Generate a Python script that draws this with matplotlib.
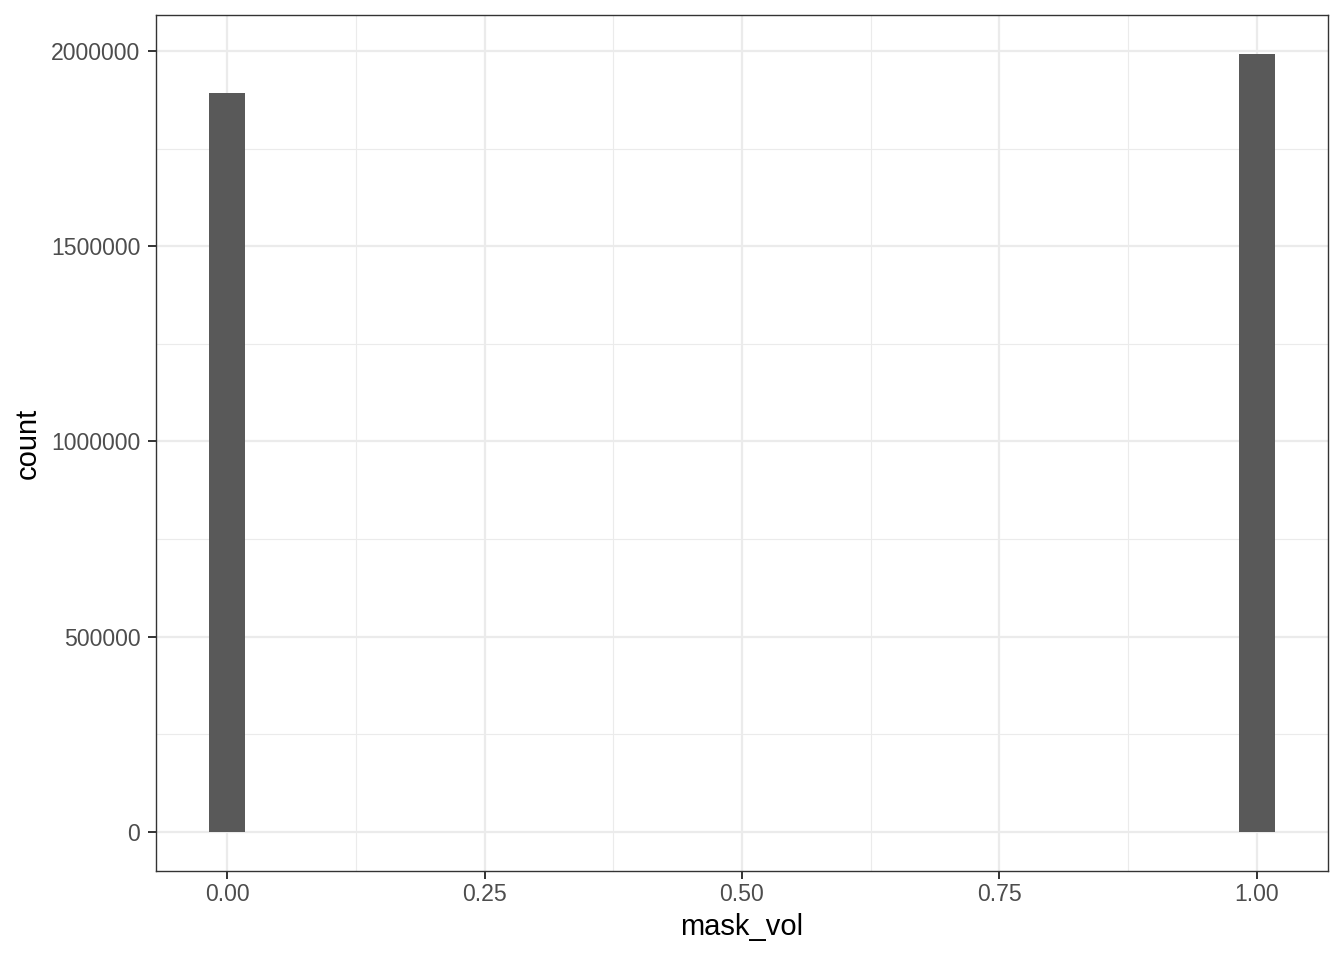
import matplotlib
matplotlib.use("Agg")
import matplotlib.pyplot as plt
import numpy as np

plt.rcParams['font.family'] = ['Liberation Sans', 'DejaVu Sans']

# histogram of mask_vol (30 bins, only the end bins are filled)
mask_vol = [0.0, 1.0]
counts = [1892500, 1992300]
bin_width = 1 / 29

x_ticks = [0.0, 0.25, 0.5, 0.75, 1.0]
x_labels = ['0.00', '0.25', '0.50', '0.75', '1.00']
y_ticks = [0, 500000, 1000000, 1500000, 2000000]
y_labels = ['0', '500000', '1000000', '1500000', '2000000']

fig = plt.figure(figsize=(13.44, 9.6), dpi=100)
ax = fig.add_axes([156 / 1344, 89 / 960, 1172 / 1344, 856 / 960])

ax.bar(mask_vol, counts, width=bin_width, color='#595959', zorder=3)

xmin, xmax = -bin_width / 2, 1 + bin_width / 2
xpad = (xmax - xmin) * 0.05
ax.set_xlim(xmin - xpad, xmax + xpad)
ymax = max(counts)
ax.set_ylim(-ymax * 0.05, ymax * 1.05)

ax.set_xticks(x_ticks)
ax.set_xticklabels(x_labels)
ax.set_yticks(y_ticks)
ax.set_yticklabels(y_labels)
ax.set_xticks([0.125, 0.375, 0.625, 0.875], minor=True)
ax.set_yticks([250000, 750000, 1250000, 1750000], minor=True)

ax.grid(which='major', color='#EBEBEB', linewidth=1.6, zorder=0)
ax.grid(which='minor', color='#EBEBEB', linewidth=0.8, zorder=0)
ax.set_axisbelow(True)

ax.tick_params(which='major', length=5.8, width=1.4, color='#333333',
               labelcolor='#4D4D4D', labelsize=16.6)
ax.tick_params(axis='x', pad=2.5)
ax.tick_params(axis='y', pad=5.5)
ax.tick_params(which='minor', length=0)
for s in ax.spines.values():
    s.set_color('#333333')
    s.set_linewidth(1)

ax.set_xlabel('mask_vol', fontsize=21, color='black', labelpad=5.5)
ax.set_ylabel('count', fontsize=21, color='black', labelpad=6.5)

fig.savefig('out.png', dpi=100)
